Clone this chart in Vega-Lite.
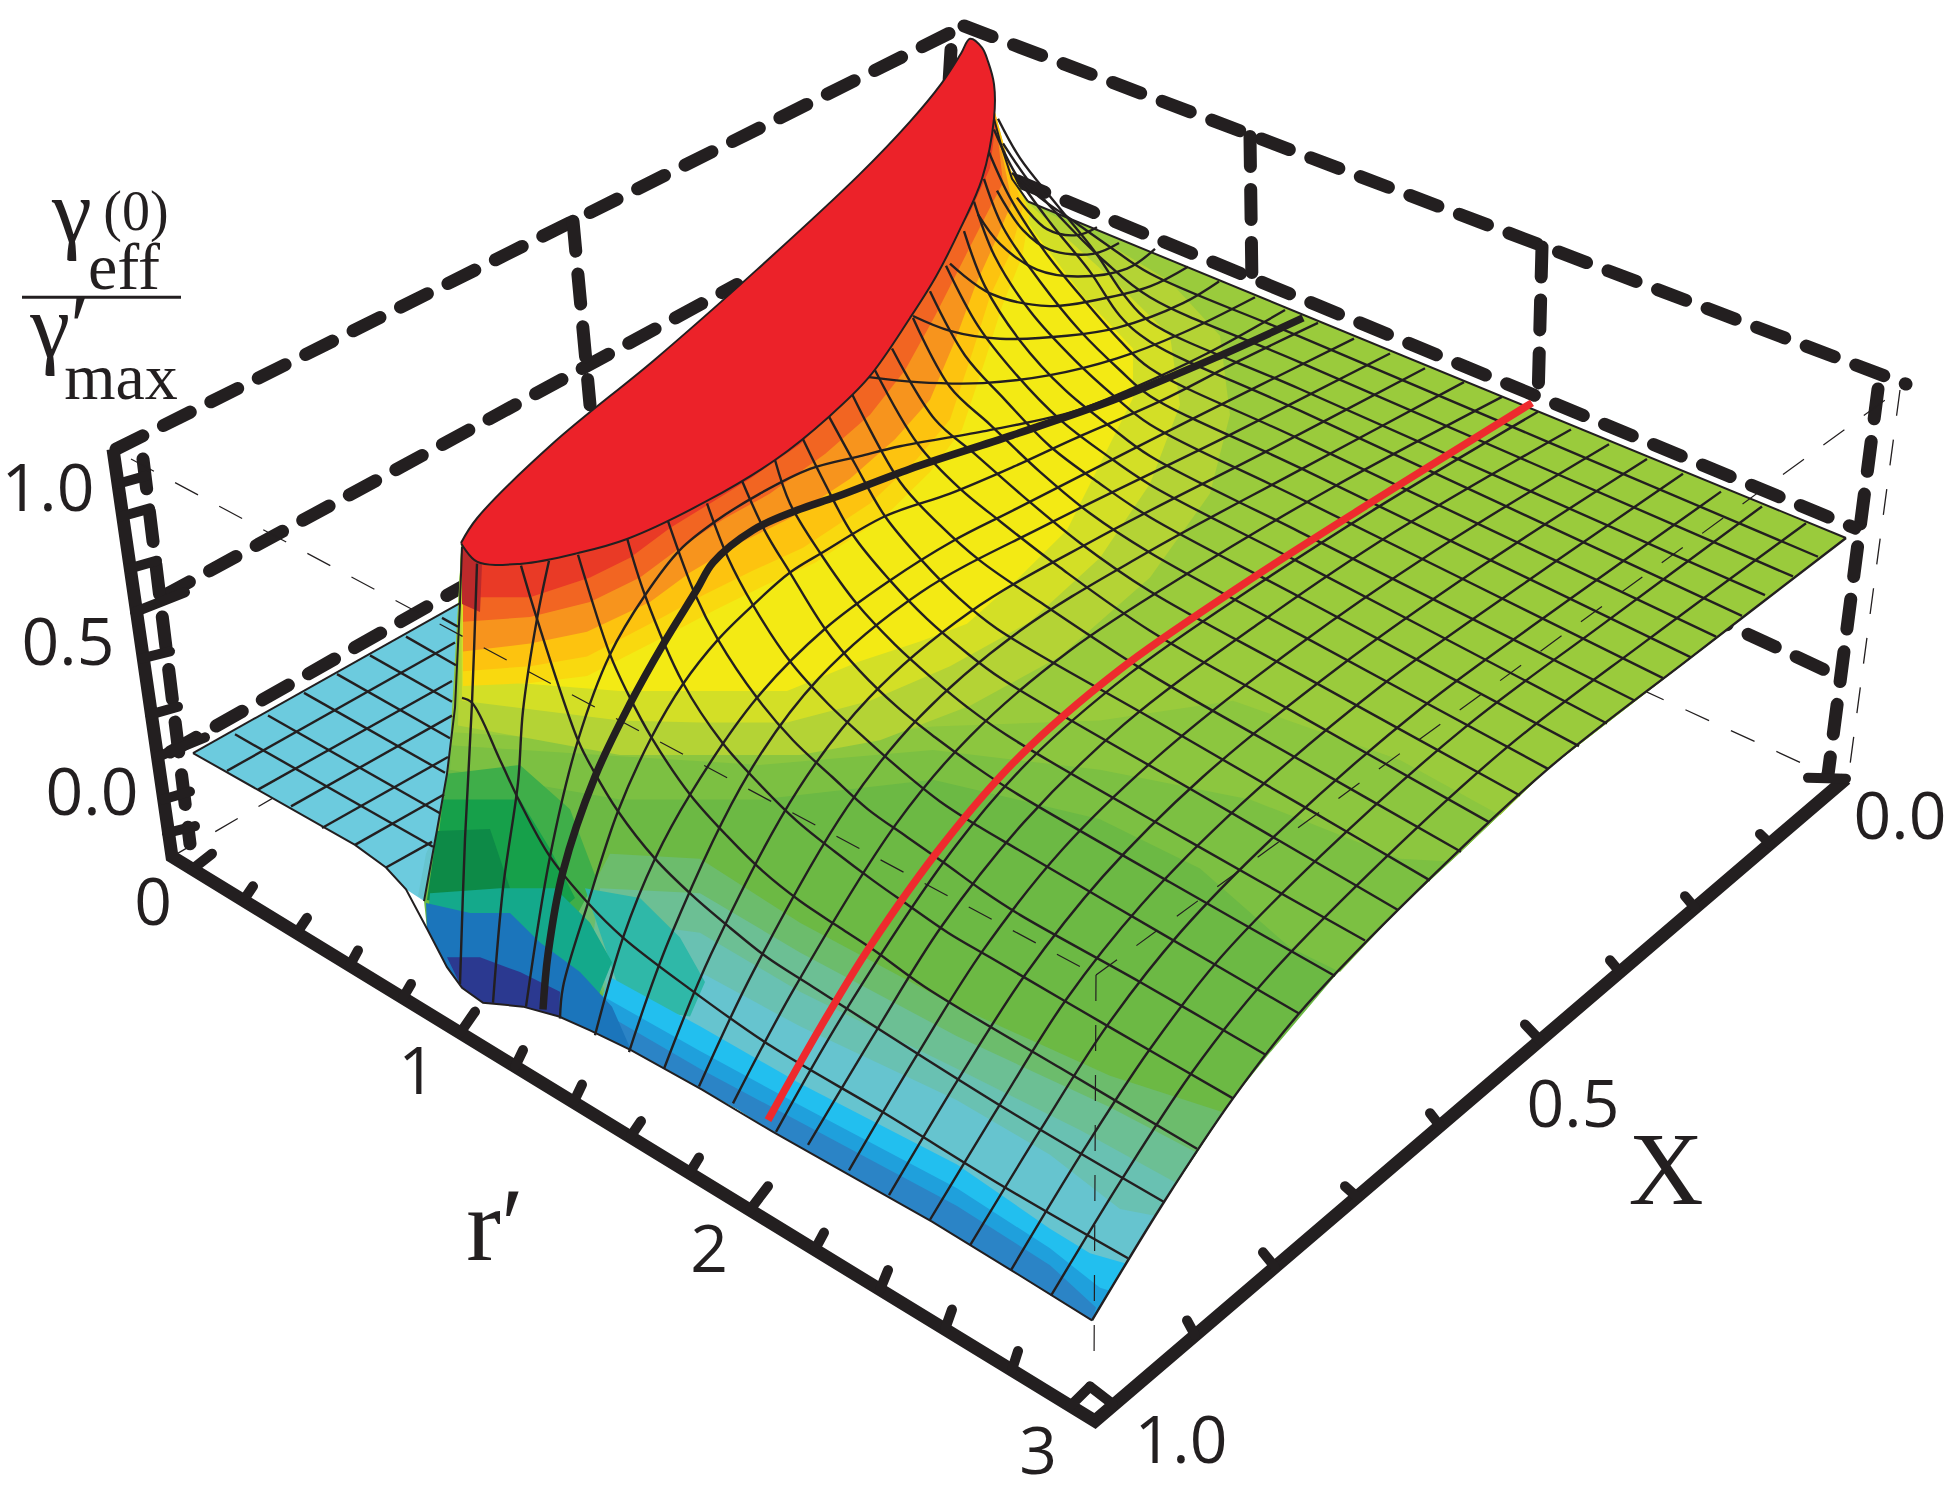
{"$schema":"https://vega.github.io/schema/vega-lite/v6.json","width":1950,"height":1497,"padding":0,"autosize":{"type":"fit","contains":"padding"},"background":"white","config":{"view":{"stroke":null}},
"datasets":{
"thinBack":[{"g":"a","x":172,"y":848},{"g":"a","x":500,"y":655},{"g":"b","x":1640,"y":678},{"g":"b","x":1838,"y":770},{"g":"c","x":1900,"y":375},{"g":"c","x":1848,"y":770}],
"dashes":[{"g":"d1","x":116,"y":435},{"g":"d1","x":964,"y":6},{"g":"d2","x":964,"y":6},{"g":"d2","x":1906,"y":369},{"g":"d3","x":1878,"y":374},{"g":"d3","x":1828,"y":765},{"g":"d4","x":163,"y":584},{"g":"d4","x":737,"y":268},{"g":"d5","x":1017,"y":163},{"g":"d5","x":1855,"y":515},{"g":"d6","x":170,"y":742},{"g":"d6","x":470,"y":570},{"g":"d7","x":1700,"y":600},{"g":"d7","x":1838,"y":665},{"g":"v1","x":573,"y":204},{"g":"v1","x":590,"y":390},{"g":"v2","x":1250,"y":118},{"g":"v2","x":1252,"y":270},{"g":"v3","x":1542,"y":230},{"g":"v3","x":1538,"y":385},{"g":"v4","x":951,"y":30},{"g":"v4","x":948,"y":80},{"g":"z","x":143,"y":445},{"g":"z","x":190,"y":835}],
"solid":[{"g":"s","x":113,"y":435},{"g":"s","x":172,"y":848},{"g":"s","x":1095,"y":1420},{"g":"s","x":1846,"y":769}],
"ticks":[
{"g":"r1","x":192,"y":861},{"g":"r1","x":212,"y":845},{"g":"r2","x":245,"y":890},{"g":"r2","x":253,"y":878},{"g":"r3","x":297,"y":925},{"g":"r3","x":307,"y":910},{"g":"r4","x":350,"y":958},{"g":"r4","x":358,"y":943},{"g":"r5","x":403,"y":991},{"g":"r5","x":411,"y":977},{"g":"r6","x":460,"y":1027},{"g":"r6","x":475,"y":1005},{"g":"r7","x":515,"y":1061},{"g":"r7","x":523,"y":1044},{"g":"r8","x":574,"y":1096},{"g":"r8","x":582,"y":1079},{"g":"r9","x":631,"y":1131},{"g":"r9","x":641,"y":1116},{"g":"r10","x":690,"y":1168},{"g":"r10","x":699,"y":1153},{"g":"r11","x":750,"y":1206},{"g":"r11","x":768,"y":1182},{"g":"r12","x":815,"y":1246},{"g":"r12","x":824,"y":1229},{"g":"r13","x":880,"y":1287},{"g":"r13","x":888,"y":1267},{"g":"r14","x":945,"y":1327},{"g":"r14","x":952,"y":1307},{"g":"r15","x":1012,"y":1368},{"g":"r15","x":1018,"y":1349},{"g":"r16","x":1070,"y":1405},{"g":"r16","x":1090,"y":1385},
{"g":"x1","x":1195,"y":1333},{"g":"x1","x":1187,"y":1318},{"g":"x2","x":1275,"y":1264},{"g":"x2","x":1263,"y":1249},{"g":"x3","x":1357,"y":1193},{"g":"x3","x":1345,"y":1182},{"g":"x4","x":1440,"y":1121},{"g":"x4","x":1430,"y":1108},{"g":"x5","x":1540,"y":1034},{"g":"x5","x":1525,"y":1018},{"g":"x6","x":1620,"y":965},{"g":"x6","x":1610,"y":953},{"g":"x7","x":1695,"y":900},{"g":"x7","x":1685,"y":888},{"g":"x8","x":1770,"y":835},{"g":"x8","x":1760,"y":825},{"g":"x9","x":1846,"y":769},{"g":"x9","x":1808,"y":768},{"g":"x10","x":1113,"y":1403},{"g":"x10","x":1090,"y":1385},
{"g":"z1","x":118,"y":470},{"g":"z1","x":146,"y":462},{"g":"z2","x":122,"y":503},{"g":"z2","x":150,"y":495},{"g":"z3","x":129,"y":556},{"g":"z3","x":157,"y":548},{"g":"z4","x":135,"y":600},{"g":"z4","x":185,"y":580},{"g":"z5","x":142,"y":647},{"g":"z5","x":170,"y":640},{"g":"z6","x":150,"y":704},{"g":"z6","x":178,"y":696},{"g":"z7","x":157,"y":747},{"g":"z7","x":205,"y":727},{"g":"z8","x":163,"y":790},{"g":"z8","x":190,"y":782},{"g":"z9","x":167,"y":824},{"g":"z9","x":195,"y":817}],
"poly":[
{"p":"floor","c":"floor","x":193,"y":743},{"p":"floor","c":"floor","x":460,"y":591},{"p":"floor","c":"floor","x":455,"y":697},{"p":"floor","c":"floor","x":447,"y":764},{"p":"floor","c":"floor","x":437,"y":821},{"p":"floor","c":"floor","x":424,"y":893},{"p":"floor","c":"floor","x":406,"y":881},{"p":"floor","c":"floor","x":386,"y":859},{"p":"floor","c":"floor","x":355,"y":836},{"p":"floor","c":"floor","x":193,"y":743},
{"p":"foot","c":"f2","x":426,"y":845},{"p":"foot","c":"f2","x":437,"y":821},{"p":"foot","c":"f2","x":430,"y":893},{"p":"foot","c":"f2","x":418,"y":888},{"p":"foot","c":"f2","x":426,"y":845},
{"p":"S","c":"g0","x":461,"y":530},{"p":"S","c":"g0","x":630,"y":480},{"p":"S","c":"g0","x":760,"y":400},{"p":"S","c":"g0","x":869,"y":310},{"p":"S","c":"g0","x":940,"y":210},{"p":"S","c":"g0","x":990,"y":60},{"p":"S","c":"g0","x":994,"y":100},{"p":"S","c":"g0","x":1002,"y":130},{"p":"S","c":"g0","x":1012,"y":161},{"p":"S","c":"g0","x":1028,"y":184},{"p":"S","c":"g0","x":1846,"y":525},{"p":"S","c":"g0","x":1719,"y":625},{"p":"S","c":"g0","x":1635,"y":690},{"p":"S","c":"g0","x":1548,"y":759},{"p":"S","c":"g0","x":1461,"y":843},{"p":"S","c":"g0","x":1400,"y":900},{"p":"S","c":"g0","x":1335,"y":969},{"p":"S","c":"g0","x":1268,"y":1049},{"p":"S","c":"g0","x":1233,"y":1093},{"p":"S","c":"g0","x":1164,"y":1198},{"p":"S","c":"g0","x":1128,"y":1255},{"p":"S","c":"g0","x":1092,"y":1318},{"p":"S","c":"g0","x":1011,"y":1267},{"p":"S","c":"g0","x":932,"y":1218},{"p":"S","c":"g0","x":850,"y":1171},{"p":"S","c":"g0","x":773,"y":1127},{"p":"S","c":"g0","x":738,"y":1104},{"p":"S","c":"g0","x":702,"y":1084},{"p":"S","c":"g0","x":666,"y":1063},{"p":"S","c":"g0","x":631,"y":1044},{"p":"S","c":"g0","x":590,"y":1024},{"p":"S","c":"g0","x":559,"y":1010},{"p":"S","c":"g0","x":523,"y":1000},{"p":"S","c":"g0","x":483,"y":996},{"p":"S","c":"g0","x":462,"y":981},{"p":"S","c":"g0","x":447,"y":960},{"p":"S","c":"g0","x":427,"y":921},{"p":"S","c":"g0","x":424,"y":893},{"p":"S","c":"g0","x":437,"y":821},{"p":"S","c":"g0","x":447,"y":764},{"p":"S","c":"g0","x":455,"y":697},{"p":"S","c":"g0","x":460,"y":591},{"p":"S","c":"g0","x":461,"y":530},
{"p":"G1","c":"g1","x":450,"y":760},{"p":"G1","c":"g1","x":620,"y":790},{"p":"G1","c":"g1","x":760,"y":790},{"p":"G1","c":"g1","x":933,"y":770},{"p":"G1","c":"g1","x":1100,"y":810},{"p":"G1","c":"g1","x":1200,"y":860},{"p":"G1","c":"g1","x":1290,"y":940},{"p":"G1","c":"g1","x":1340,"y":965},{"p":"G1","c":"g1","x":1400,"y":900},{"p":"G1","c":"g1","x":1461,"y":843},{"p":"G1","c":"g1","x":1548,"y":759},{"p":"G1","c":"g1","x":1846,"y":525},{"p":"G1","c":"g1","x":1028,"y":184},{"p":"G1","c":"g1","x":1000,"y":140},{"p":"G1","c":"g1","x":800,"y":400},{"p":"G1","c":"g1","x":461,"y":540},{"p":"G1","c":"g1","x":450,"y":760},
{"p":"G2","c":"g2","x":450,"y":735},{"p":"G2","c":"g2","x":600,"y":745},{"p":"G2","c":"g2","x":760,"y":755},{"p":"G2","c":"g2","x":933,"y":740},{"p":"G2","c":"g2","x":1100,"y":760},{"p":"G2","c":"g2","x":1250,"y":790},{"p":"G2","c":"g2","x":1400,"y":850},{"p":"G2","c":"g2","x":1450,"y":853},{"p":"G2","c":"g2","x":1548,"y":759},{"p":"G2","c":"g2","x":1846,"y":525},{"p":"G2","c":"g2","x":1028,"y":184},{"p":"G2","c":"g2","x":1000,"y":140},{"p":"G2","c":"g2","x":800,"y":400},{"p":"G2","c":"g2","x":461,"y":540},{"p":"G2","c":"g2","x":450,"y":735},
{"p":"G3","c":"g3","x":452,"y":722},{"p":"G3","c":"g3","x":620,"y":732},{"p":"G3","c":"g3","x":800,"y":732},{"p":"G3","c":"g3","x":933,"y":716},{"p":"G3","c":"g3","x":1100,"y":710},{"p":"G3","c":"g3","x":1233,"y":690},{"p":"G3","c":"g3","x":1400,"y":750},{"p":"G3","c":"g3","x":1500,"y":806},{"p":"G3","c":"g3","x":1548,"y":759},{"p":"G3","c":"g3","x":1846,"y":525},{"p":"G3","c":"g3","x":1028,"y":184},{"p":"G3","c":"g3","x":1000,"y":140},{"p":"G3","c":"g3","x":800,"y":400},{"p":"G3","c":"g3","x":461,"y":540},{"p":"G3","c":"g3","x":452,"y":722},
{"p":"YB","c":"yb","x":458,"y":715},{"p":"YB","c":"yb","x":620,"y":745},{"p":"YB","c":"yb","x":700,"y":745},{"p":"YB","c":"yb","x":800,"y":745},{"p":"YB","c":"yb","x":880,"y":730},{"p":"YB","c":"yb","x":970,"y":695},{"p":"YB","c":"yb","x":1060,"y":645},{"p":"YB","c":"yb","x":1150,"y":565},{"p":"YB","c":"yb","x":1210,"y":480},{"p":"YB","c":"yb","x":1230,"y":400},{"p":"YB","c":"yb","x":1220,"y":320},{"p":"YB","c":"yb","x":1170,"y":265},{"p":"YB","c":"yb","x":1100,"y":222},{"p":"YB","c":"yb","x":1030,"y":186},{"p":"YB","c":"yb","x":1000,"y":140},{"p":"YB","c":"yb","x":800,"y":400},{"p":"YB","c":"yb","x":461,"y":540},{"p":"YB","c":"yb","x":458,"y":715},
{"p":"YC","c":"yc","x":462,"y":690},{"p":"YC","c":"yc","x":620,"y":710},{"p":"YC","c":"yc","x":700,"y":712},{"p":"YC","c":"yc","x":787,"y":712},{"p":"YC","c":"yc","x":870,"y":690},{"p":"YC","c":"yc","x":950,"y":655},{"p":"YC","c":"yc","x":1030,"y":610},{"p":"YC","c":"yc","x":1100,"y":545},{"p":"YC","c":"yc","x":1150,"y":470},{"p":"YC","c":"yc","x":1180,"y":390},{"p":"YC","c":"yc","x":1170,"y":320},{"p":"YC","c":"yc","x":1120,"y":270},{"p":"YC","c":"yc","x":1060,"y":215},{"p":"YC","c":"yc","x":1022,"y":180},{"p":"YC","c":"yc","x":1000,"y":140},{"p":"YC","c":"yc","x":800,"y":400},{"p":"YC","c":"yc","x":461,"y":540},{"p":"YC","c":"yc","x":462,"y":690},
{"p":"Y","c":"y","x":465,"y":668},{"p":"Y","c":"y","x":620,"y":680},{"p":"Y","c":"y","x":700,"y":680},{"p":"Y","c":"y","x":787,"y":680},{"p":"Y","c":"y","x":860,"y":650},{"p":"Y","c":"y","x":920,"y":630},{"p":"Y","c":"y","x":967,"y":612},{"p":"Y","c":"y","x":1017,"y":567},{"p":"Y","c":"y","x":1067,"y":517},{"p":"Y","c":"y","x":1100,"y":450},{"p":"Y","c":"y","x":1133,"y":383},{"p":"Y","c":"y","x":1133,"y":333},{"p":"Y","c":"y","x":1083,"y":280},{"p":"Y","c":"y","x":1033,"y":213},{"p":"Y","c":"y","x":1017,"y":187},{"p":"Y","c":"y","x":1000,"y":140},{"p":"Y","c":"y","x":800,"y":400},{"p":"Y","c":"y","x":461,"y":540},{"p":"Y","c":"y","x":465,"y":668},
{"p":"GL1","c":"gl1","x":447,"y":764},{"p":"GL1","c":"gl1","x":520,"y":755},{"p":"GL1","c":"gl1","x":570,"y":800},{"p":"GL1","c":"gl1","x":600,"y":880},{"p":"GL1","c":"gl1","x":620,"y":900},{"p":"GL1","c":"gl1","x":560,"y":930},{"p":"GL1","c":"gl1","x":430,"y":900},{"p":"GL1","c":"gl1","x":447,"y":764},
{"p":"GL2","c":"gl2","x":443,"y":790},{"p":"GL2","c":"gl2","x":520,"y":790},{"p":"GL2","c":"gl2","x":550,"y":840},{"p":"GL2","c":"gl2","x":575,"y":890},{"p":"GL2","c":"gl2","x":540,"y":920},{"p":"GL2","c":"gl2","x":430,"y":900},{"p":"GL2","c":"gl2","x":443,"y":790},
{"p":"GL3","c":"gl3","x":437,"y":822},{"p":"GL3","c":"gl3","x":490,"y":820},{"p":"GL3","c":"gl3","x":510,"y":880},{"p":"GL3","c":"gl3","x":480,"y":900},{"p":"GL3","c":"gl3","x":427,"y":892},{"p":"GL3","c":"gl3","x":437,"y":822},
{"p":"F0","c":"f0","x":610,"y":845},{"p":"F0","c":"f0","x":700,"y":850},{"p":"F0","c":"f0","x":800,"y":915},{"p":"F0","c":"f0","x":957,"y":1000},{"p":"F0","c":"f0","x":1110,"y":1070},{"p":"F0","c":"f0","x":1223,"y":1107},{"p":"F0","c":"f0","x":1197,"y":1148},{"p":"F0","c":"f0","x":1164,"y":1198},{"p":"F0","c":"f0","x":1128,"y":1255},{"p":"F0","c":"f0","x":1092,"y":1318},{"p":"F0","c":"f0","x":1011,"y":1267},{"p":"F0","c":"f0","x":932,"y":1218},{"p":"F0","c":"f0","x":850,"y":1171},{"p":"F0","c":"f0","x":773,"y":1127},{"p":"F0","c":"f0","x":738,"y":1104},{"p":"F0","c":"f0","x":702,"y":1084},{"p":"F0","c":"f0","x":666,"y":1063},{"p":"F0","c":"f0","x":631,"y":1044},{"p":"F0","c":"f0","x":570,"y":920},{"p":"F0","c":"f0","x":610,"y":845},
{"p":"F1","c":"f1","x":600,"y":880},{"p":"F1","c":"f1","x":700,"y":885},{"p":"F1","c":"f1","x":800,"y":945},{"p":"F1","c":"f1","x":957,"y":1030},{"p":"F1","c":"f1","x":1110,"y":1102},{"p":"F1","c":"f1","x":1197,"y":1148},{"p":"F1","c":"f1","x":1164,"y":1198},{"p":"F1","c":"f1","x":1128,"y":1255},{"p":"F1","c":"f1","x":1092,"y":1318},{"p":"F1","c":"f1","x":1011,"y":1267},{"p":"F1","c":"f1","x":932,"y":1218},{"p":"F1","c":"f1","x":850,"y":1171},{"p":"F1","c":"f1","x":773,"y":1127},{"p":"F1","c":"f1","x":738,"y":1104},{"p":"F1","c":"f1","x":702,"y":1084},{"p":"F1","c":"f1","x":666,"y":1063},{"p":"F1","c":"f1","x":631,"y":1044},{"p":"F1","c":"f1","x":590,"y":950},{"p":"F1","c":"f1","x":600,"y":880},
{"p":"F15","c":"f15","x":625,"y":915},{"p":"F15","c":"f15","x":700,"y":925},{"p":"F15","c":"f15","x":800,"y":985},{"p":"F15","c":"f15","x":957,"y":1063},{"p":"F15","c":"f15","x":1080,"y":1125},{"p":"F15","c":"f15","x":1175,"y":1178},{"p":"F15","c":"f15","x":1164,"y":1198},{"p":"F15","c":"f15","x":1128,"y":1255},{"p":"F15","c":"f15","x":1092,"y":1318},{"p":"F15","c":"f15","x":1011,"y":1267},{"p":"F15","c":"f15","x":932,"y":1218},{"p":"F15","c":"f15","x":850,"y":1171},{"p":"F15","c":"f15","x":773,"y":1127},{"p":"F15","c":"f15","x":738,"y":1104},{"p":"F15","c":"f15","x":702,"y":1084},{"p":"F15","c":"f15","x":666,"y":1063},{"p":"F15","c":"f15","x":631,"y":1044},{"p":"F15","c":"f15","x":600,"y":960},{"p":"F15","c":"f15","x":625,"y":915},
{"p":"F2","c":"f2","x":640,"y":945},{"p":"F2","c":"f2","x":700,"y":965},{"p":"F2","c":"f2","x":800,"y":1020},{"p":"F2","c":"f2","x":957,"y":1095},{"p":"F2","c":"f2","x":1050,"y":1150},{"p":"F2","c":"f2","x":1120,"y":1205},{"p":"F2","c":"f2","x":1155,"y":1212},{"p":"F2","c":"f2","x":1128,"y":1255},{"p":"F2","c":"f2","x":1092,"y":1318},{"p":"F2","c":"f2","x":1011,"y":1267},{"p":"F2","c":"f2","x":932,"y":1218},{"p":"F2","c":"f2","x":850,"y":1171},{"p":"F2","c":"f2","x":773,"y":1127},{"p":"F2","c":"f2","x":738,"y":1104},{"p":"F2","c":"f2","x":702,"y":1084},{"p":"F2","c":"f2","x":666,"y":1063},{"p":"F2","c":"f2","x":631,"y":1044},{"p":"F2","c":"f2","x":610,"y":980},{"p":"F2","c":"f2","x":640,"y":945},
{"p":"T2","c":"t2","x":585,"y":880},{"p":"T2","c":"t2","x":640,"y":890},{"p":"T2","c":"t2","x":680,"y":930},{"p":"T2","c":"t2","x":705,"y":975},{"p":"T2","c":"t2","x":690,"y":1010},{"p":"T2","c":"t2","x":625,"y":1000},{"p":"T2","c":"t2","x":585,"y":880},
{"p":"F3","c":"f3","x":610,"y":970},{"p":"F3","c":"f3","x":700,"y":1020},{"p":"F3","c":"f3","x":800,"y":1078},{"p":"F3","c":"f3","x":957,"y":1160},{"p":"F3","c":"f3","x":1050,"y":1225},{"p":"F3","c":"f3","x":1090,"y":1250},{"p":"F3","c":"f3","x":1125,"y":1260},{"p":"F3","c":"f3","x":1092,"y":1318},{"p":"F3","c":"f3","x":1011,"y":1267},{"p":"F3","c":"f3","x":932,"y":1218},{"p":"F3","c":"f3","x":850,"y":1171},{"p":"F3","c":"f3","x":773,"y":1127},{"p":"F3","c":"f3","x":738,"y":1104},{"p":"F3","c":"f3","x":702,"y":1084},{"p":"F3","c":"f3","x":666,"y":1063},{"p":"F3","c":"f3","x":631,"y":1044},{"p":"F3","c":"f3","x":590,"y":1024},{"p":"F3","c":"f3","x":610,"y":970},
{"p":"F35","c":"f35","x":595,"y":985},{"p":"F35","c":"f35","x":700,"y":1045},{"p":"F35","c":"f35","x":800,"y":1100},{"p":"F35","c":"f35","x":957,"y":1184},{"p":"F35","c":"f35","x":1050,"y":1245},{"p":"F35","c":"f35","x":1100,"y":1285},{"p":"F35","c":"f35","x":1110,"y":1288},{"p":"F35","c":"f35","x":1092,"y":1318},{"p":"F35","c":"f35","x":1011,"y":1267},{"p":"F35","c":"f35","x":932,"y":1218},{"p":"F35","c":"f35","x":850,"y":1171},{"p":"F35","c":"f35","x":773,"y":1127},{"p":"F35","c":"f35","x":738,"y":1104},{"p":"F35","c":"f35","x":702,"y":1084},{"p":"F35","c":"f35","x":666,"y":1063},{"p":"F35","c":"f35","x":631,"y":1044},{"p":"F35","c":"f35","x":590,"y":1024},{"p":"F35","c":"f35","x":595,"y":985},
{"p":"F4","c":"f4","x":610,"y":1010},{"p":"F4","c":"f4","x":700,"y":1063},{"p":"F4","c":"f4","x":800,"y":1117},{"p":"F4","c":"f4","x":957,"y":1202},{"p":"F4","c":"f4","x":1050,"y":1262},{"p":"F4","c":"f4","x":1096,"y":1305},{"p":"F4","c":"f4","x":1092,"y":1318},{"p":"F4","c":"f4","x":1011,"y":1267},{"p":"F4","c":"f4","x":932,"y":1218},{"p":"F4","c":"f4","x":850,"y":1171},{"p":"F4","c":"f4","x":773,"y":1127},{"p":"F4","c":"f4","x":738,"y":1104},{"p":"F4","c":"f4","x":702,"y":1084},{"p":"F4","c":"f4","x":666,"y":1063},{"p":"F4","c":"f4","x":631,"y":1044},{"p":"F4","c":"f4","x":610,"y":1010},
{"p":"TL","c":"tl","x":430,"y":885},{"p":"TL","c":"tl","x":500,"y":880},{"p":"TL","c":"tl","x":555,"y":880},{"p":"TL","c":"tl","x":590,"y":915},{"p":"TL","c":"tl","x":612,"y":955},{"p":"TL","c":"tl","x":600,"y":985},{"p":"TL","c":"tl","x":590,"y":1024},{"p":"TL","c":"tl","x":559,"y":1010},{"p":"TL","c":"tl","x":523,"y":1000},{"p":"TL","c":"tl","x":483,"y":996},{"p":"TL","c":"tl","x":462,"y":981},{"p":"TL","c":"tl","x":447,"y":960},{"p":"TL","c":"tl","x":427,"y":921},{"p":"TL","c":"tl","x":430,"y":885},
{"p":"TB","c":"tb","x":426,"y":895},{"p":"TB","c":"tb","x":470,"y":905},{"p":"TB","c":"tb","x":510,"y":905},{"p":"TB","c":"tb","x":540,"y":935},{"p":"TB","c":"tb","x":580,"y":965},{"p":"TB","c":"tb","x":612,"y":1000},{"p":"TB","c":"tb","x":631,"y":1044},{"p":"TB","c":"tb","x":590,"y":1024},{"p":"TB","c":"tb","x":559,"y":1010},{"p":"TB","c":"tb","x":523,"y":1000},{"p":"TB","c":"tb","x":483,"y":996},{"p":"TB","c":"tb","x":462,"y":981},{"p":"TB","c":"tb","x":447,"y":960},{"p":"TB","c":"tb","x":427,"y":921},{"p":"TB","c":"tb","x":426,"y":895},
{"p":"NV","c":"nv","x":447,"y":950},{"p":"NV","c":"nv","x":480,"y":950},{"p":"NV","c":"nv","x":520,"y":965},{"p":"NV","c":"nv","x":560,"y":985},{"p":"NV","c":"nv","x":559,"y":1010},{"p":"NV","c":"nv","x":523,"y":1000},{"p":"NV","c":"nv","x":483,"y":996},{"p":"NV","c":"nv","x":462,"y":981},{"p":"NV","c":"nv","x":447,"y":950},
{"p":"O0","c":"o0","x":463,"y":675},{"p":"O0","c":"o0","x":530,"y":672},{"p":"O0","c":"o0","x":587,"y":665},{"p":"O0","c":"o0","x":670,"y":622},{"p":"O0","c":"o0","x":715,"y":598},{"p":"O0","c":"o0","x":765,"y":573},{"p":"O0","c":"o0","x":815,"y":550},{"p":"O0","c":"o0","x":885,"y":503},{"p":"O0","c":"o0","x":930,"y":458},{"p":"O0","c":"o0","x":962,"y":415},{"p":"O0","c":"o0","x":985,"y":345},{"p":"O0","c":"o0","x":1002,"y":290},{"p":"O0","c":"o0","x":1022,"y":240},{"p":"O0","c":"o0","x":1030,"y":195},{"p":"O0","c":"o0","x":1010,"y":150},{"p":"O0","c":"o0","x":994,"y":90},{"p":"O0","c":"o0","x":800,"y":350},{"p":"O0","c":"o0","x":600,"y":480},{"p":"O0","c":"o0","x":463,"y":530},{"p":"O0","c":"o0","x":463,"y":675},
{"p":"O1","c":"o1","x":463,"y":660},{"p":"O1","c":"o1","x":530,"y":655},{"p":"O1","c":"o1","x":587,"y":645},{"p":"O1","c":"o1","x":663,"y":605},{"p":"O1","c":"o1","x":703,"y":583},{"p":"O1","c":"o1","x":753,"y":558},{"p":"O1","c":"o1","x":803,"y":535},{"p":"O1","c":"o1","x":870,"y":490},{"p":"O1","c":"o1","x":917,"y":445},{"p":"O1","c":"o1","x":950,"y":405},{"p":"O1","c":"o1","x":973,"y":335},{"p":"O1","c":"o1","x":990,"y":280},{"p":"O1","c":"o1","x":1010,"y":237},{"p":"O1","c":"o1","x":1023,"y":190},{"p":"O1","c":"o1","x":1010,"y":150},{"p":"O1","c":"o1","x":994,"y":90},{"p":"O1","c":"o1","x":800,"y":350},{"p":"O1","c":"o1","x":600,"y":480},{"p":"O1","c":"o1","x":463,"y":530},{"p":"O1","c":"o1","x":463,"y":660},
{"p":"O2","c":"o2","x":463,"y":640},{"p":"O2","c":"o2","x":530,"y":632},{"p":"O2","c":"o2","x":587,"y":620},{"p":"O2","c":"o2","x":650,"y":590},{"p":"O2","c":"o2","x":690,"y":560},{"p":"O2","c":"o2","x":740,"y":530},{"p":"O2","c":"o2","x":790,"y":505},{"p":"O2","c":"o2","x":850,"y":465},{"p":"O2","c":"o2","x":895,"y":425},{"p":"O2","c":"o2","x":930,"y":385},{"p":"O2","c":"o2","x":955,"y":325},{"p":"O2","c":"o2","x":975,"y":270},{"p":"O2","c":"o2","x":995,"y":225},{"p":"O2","c":"o2","x":1012,"y":185},{"p":"O2","c":"o2","x":1003,"y":140},{"p":"O2","c":"o2","x":994,"y":90},{"p":"O2","c":"o2","x":800,"y":350},{"p":"O2","c":"o2","x":600,"y":480},{"p":"O2","c":"o2","x":463,"y":530},{"p":"O2","c":"o2","x":463,"y":640},
{"p":"O3","c":"o3","x":463,"y":610},{"p":"O3","c":"o3","x":530,"y":605},{"p":"O3","c":"o3","x":590,"y":590},{"p":"O3","c":"o3","x":640,"y":565},{"p":"O3","c":"o3","x":680,"y":535},{"p":"O3","c":"o3","x":725,"y":505},{"p":"O3","c":"o3","x":770,"y":480},{"p":"O3","c":"o3","x":825,"y":440},{"p":"O3","c":"o3","x":870,"y":400},{"p":"O3","c":"o3","x":905,"y":355},{"p":"O3","c":"o3","x":935,"y":300},{"p":"O3","c":"o3","x":960,"y":250},{"p":"O3","c":"o3","x":985,"y":200},{"p":"O3","c":"o3","x":1003,"y":165},{"p":"O3","c":"o3","x":998,"y":120},{"p":"O3","c":"o3","x":994,"y":90},{"p":"O3","c":"o3","x":800,"y":350},{"p":"O3","c":"o3","x":600,"y":480},{"p":"O3","c":"o3","x":463,"y":530},{"p":"O3","c":"o3","x":463,"y":610},
{"p":"O4","c":"o4","x":463,"y":585},{"p":"O4","c":"o4","x":530,"y":585},{"p":"O4","c":"o4","x":590,"y":565},{"p":"O4","c":"o4","x":630,"y":545},{"p":"O4","c":"o4","x":670,"y":515},{"p":"O4","c":"o4","x":710,"y":490},{"p":"O4","c":"o4","x":750,"y":465},{"p":"O4","c":"o4","x":800,"y":430},{"p":"O4","c":"o4","x":845,"y":385},{"p":"O4","c":"o4","x":885,"y":335},{"p":"O4","c":"o4","x":915,"y":290},{"p":"O4","c":"o4","x":945,"y":240},{"p":"O4","c":"o4","x":970,"y":195},{"p":"O4","c":"o4","x":990,"y":150},{"p":"O4","c":"o4","x":995,"y":110},{"p":"O4","c":"o4","x":994,"y":90},{"p":"O4","c":"o4","x":800,"y":350},{"p":"O4","c":"o4","x":600,"y":480},{"p":"O4","c":"o4","x":463,"y":530},{"p":"O4","c":"o4","x":463,"y":585},
{"p":"W1","c":"w1","x":462,"y":530},{"p":"W1","c":"w1","x":482,"y":552},{"p":"W1","c":"w1","x":480,"y":600},{"p":"W1","c":"w1","x":462,"y":592},{"p":"W1","c":"w1","x":462,"y":530}
],
"grid":[
{"g":"E0","x":1092,"y":1318},{"g":"E0","x":1164,"y":1198},{"g":"E0","x":1233,"y":1093},{"g":"E0","x":1299,"y":1007},{"g":"E0","x":1400,"y":900},{"g":"E0","x":1548,"y":759},{"g":"E0","x":1691,"y":646},{"g":"E0","x":1846,"y":525},
{"g":"A1","x":1051,"y":1293},{"g":"A1","x":1123,"y":1173},{"g":"A1","x":1191,"y":1068},{"g":"A1","x":1260,"y":979},{"g":"A1","x":1361,"y":873},{"g":"A1","x":1506,"y":738},{"g":"A1","x":1648,"y":628},{"g":"A1","x":1806,"y":510},
{"g":"A2","x":1011,"y":1267},{"g":"A2","x":1082,"y":1148},{"g":"A2","x":1150,"y":1043},{"g":"A2","x":1220,"y":951},{"g":"A2","x":1321,"y":847},{"g":"A2","x":1465,"y":717},{"g":"A2","x":1606,"y":610},{"g":"A2","x":1762,"y":493},
{"g":"A3","x":970,"y":1242},{"g":"A3","x":1041,"y":1124},{"g":"A3","x":1108,"y":1018},{"g":"A3","x":1181,"y":924},{"g":"A3","x":1282,"y":820},{"g":"A3","x":1423,"y":696},{"g":"A3","x":1563,"y":592},{"g":"A3","x":1721,"y":478},
{"g":"A4","x":930,"y":1216},{"g":"A4","x":1000,"y":1099},{"g":"A4","x":1066,"y":993},{"g":"A4","x":1142,"y":896},{"g":"A4","x":1242,"y":794},{"g":"A4","x":1381,"y":675},{"g":"A4","x":1520,"y":574},{"g":"A4","x":1683,"y":460},
{"g":"A5","x":889,"y":1191},{"g":"A5","x":958,"y":1074},{"g":"A5","x":1025,"y":968},{"g":"A5","x":1103,"y":868},{"g":"A5","x":1203,"y":767},{"g":"A5","x":1340,"y":655},{"g":"A5","x":1478,"y":556},{"g":"A5","x":1647,"y":445},
{"g":"A6","x":849,"y":1166},{"g":"A6","x":917,"y":1049},{"g":"A6","x":983,"y":943},{"g":"A6","x":1063,"y":840},{"g":"A6","x":1164,"y":741},{"g":"A6","x":1298,"y":634},{"g":"A6","x":1435,"y":538},{"g":"A6","x":1609,"y":430},
{"g":"A7","x":808,"y":1140},{"g":"A7","x":876,"y":1025},{"g":"A7","x":942,"y":918},{"g":"A7","x":1024,"y":813},{"g":"A7","x":1124,"y":714},{"g":"A7","x":1257,"y":613},{"g":"A7","x":1393,"y":520},{"g":"A7","x":1571,"y":415},
{"g":"A8","x":776,"y":1127},{"g":"A8","x":845,"y":1005},{"g":"A8","x":955,"y":838},{"g":"A8","x":1030,"y":750},{"g":"A8","x":1129,"y":663},{"g":"A8","x":1252,"y":576},{"g":"A8","x":1376,"y":495},{"g":"A8","x":1538,"y":397},
{"g":"A9","x":733,"y":1098},{"g":"A9","x":794,"y":982},{"g":"A9","x":896,"y":815},{"g":"A9","x":970,"y":726},{"g":"A9","x":1070,"y":639},{"g":"A9","x":1194,"y":557},{"g":"A9","x":1334,"y":473},{"g":"A9","x":1502,"y":382},
{"g":"A10","x":699,"y":1081},{"g":"A10","x":753,"y":965},{"g":"A10","x":847,"y":798},{"g":"A10","x":919,"y":707},{"g":"A10","x":1020,"y":619},{"g":"A10","x":1145,"y":541},{"g":"A10","x":1300,"y":456},{"g":"A10","x":1464,"y":367},
{"g":"A11","x":664,"y":1063},{"g":"A11","x":711,"y":947},{"g":"A11","x":798,"y":780},{"g":"A11","x":869,"y":687},{"g":"A11","x":970,"y":600},{"g":"A11","x":1096,"y":526},{"g":"A11","x":1265,"y":438},{"g":"A11","x":1425,"y":353},
{"g":"A12","x":629,"y":1046},{"g":"A12","x":670,"y":930},{"g":"A12","x":749,"y":763},{"g":"A12","x":819,"y":667},{"g":"A12","x":921,"y":580},{"g":"A12","x":1048,"y":511},{"g":"A12","x":1231,"y":420},{"g":"A12","x":1390,"y":338},
{"g":"A13","x":595,"y":1029},{"g":"A13","x":623,"y":930},{"g":"A13","x":655,"y":850},{"g":"A13","x":690,"y":785},{"g":"A13","x":757,"y":687},{"g":"A13","x":825,"y":617},{"g":"A13","x":890,"y":568},{"g":"A13","x":953,"y":528},{"g":"A13","x":1017,"y":495},{"g":"A13","x":1197,"y":402},{"g":"A13","x":1354,"y":323},
{"g":"A14","x":560,"y":1012},{"g":"A14","x":563,"y":980},{"g":"A14","x":588,"y":895},{"g":"A14","x":618,"y":802},{"g":"A14","x":651,"y":728},{"g":"A14","x":683,"y":673},{"g":"A14","x":718,"y":628},{"g":"A14","x":753,"y":593},{"g":"A14","x":790,"y":560},{"g":"A14","x":822,"y":540},{"g":"A14","x":885,"y":503},{"g":"A14","x":950,"y":480},{"g":"A14","x":1013,"y":453},{"g":"A14","x":1073,"y":425},{"g":"A14","x":1163,"y":385},{"g":"A14","x":1240,"y":345},{"g":"A14","x":1318,"y":307},
{"g":"A15","x":526,"y":1000},{"g":"A15","x":550,"y":848},{"g":"A15","x":578,"y":730},{"g":"A15","x":610,"y":643},{"g":"A15","x":645,"y":583},{"g":"A15","x":680,"y":537},{"g":"A15","x":717,"y":507},{"g":"A15","x":760,"y":480},{"g":"A15","x":810,"y":455},{"g":"A15","x":860,"y":442},{"g":"A15","x":900,"y":432},{"g":"A15","x":983,"y":417},{"g":"A15","x":1073,"y":397},{"g":"A15","x":1133,"y":373},{"g":"A15","x":1207,"y":338},{"g":"A15","x":1285,"y":294},
{"g":"A16a","x":493,"y":996},{"g":"A16a","x":503,"y":880},{"g":"A16a","x":518,"y":773},{"g":"A16a","x":523,"y":700},{"g":"A16a","x":537,"y":607},{"g":"A16a","x":549,"y":548},
{"g":"A16b","x":869,"y":362},{"g":"A16b","x":917,"y":367},{"g":"A16b","x":983,"y":368},{"g":"A16b","x":1050,"y":360},{"g":"A16b","x":1117,"y":343},{"g":"A16b","x":1183,"y":317},{"g":"A16b","x":1255,"y":281},
{"g":"A17a","x":460,"y":977},{"g":"A17a","x":465,"y":830},{"g":"A17a","x":472,"y":692},{"g":"A17a","x":477,"y":551},
{"g":"A17b","x":913,"y":300},{"g":"A17b","x":950,"y":315},{"g":"A17b","x":1000,"y":323},{"g":"A17b","x":1067,"y":320},{"g":"A17b","x":1117,"y":312},{"g":"A17b","x":1183,"y":287},{"g":"A17b","x":1219,"y":265},
{"g":"A18","x":950,"y":247},{"g":"A18","x":990,"y":277},{"g":"A18","x":1050,"y":290},{"g":"A18","x":1100,"y":283},{"g":"A18","x":1150,"y":270},{"g":"A18","x":1188,"y":250},
{"g":"A19","x":978,"y":197},{"g":"A19","x":1000,"y":227},{"g":"A19","x":1037,"y":253},{"g":"A19","x":1077,"y":260},{"g":"A19","x":1127,"y":252},{"g":"A19","x":1155,"y":232},
{"g":"A20","x":997,"y":173},{"g":"A20","x":1023,"y":213},{"g":"A20","x":1050,"y":233},{"g":"A20","x":1093,"y":237},{"g":"A20","x":1119,"y":226},
{"g":"A21","x":1017,"y":180},{"g":"A21","x":1047,"y":212},{"g":"A21","x":1077,"y":218},{"g":"A21","x":1097,"y":210},
{"g":"B24","x":1128,"y":1255},{"g":"B24","x":1003,"y":1182},{"g":"B24","x":883,"y":1107},{"g":"B24","x":771,"y":1040},{"g":"B24","x":687,"y":980},{"g":"B24","x":623,"y":930},{"g":"B24","x":588,"y":895},{"g":"B24","x":550,"y":848},{"g":"B24","x":520,"y":793},{"g":"B24","x":500,"y":750},{"g":"B24","x":472,"y":692},{"g":"B24","x":462,"y":687},
{"g":"B23","x":1164,"y":1198},{"g":"B23","x":1003,"y":1102},{"g":"B23","x":813,"y":980},{"g":"B23","x":767,"y":950},{"g":"B23","x":730,"y":920},{"g":"B23","x":692,"y":887},{"g":"B23","x":655,"y":850},{"g":"B23","x":618,"y":802},{"g":"B23","x":593,"y":760},{"g":"B23","x":578,"y":730},{"g":"B23","x":537,"y":607},{"g":"B23","x":521,"y":553},
{"g":"B22","x":1197,"y":1144},{"g":"B22","x":1060,"y":1062},{"g":"B22","x":925,"y":980},{"g":"B22","x":873,"y":942},{"g":"B22","x":840,"y":920},{"g":"B22","x":800,"y":893},{"g":"B22","x":763,"y":863},{"g":"B22","x":727,"y":827},{"g":"B22","x":690,"y":785},{"g":"B22","x":652,"y":728},{"g":"B22","x":628,"y":683},{"g":"B22","x":610,"y":643},{"g":"B22","x":578,"y":542},
{"g":"B21","x":1233,"y":1093},{"g":"B21","x":1110,"y":1021},{"g":"B21","x":990,"y":950},{"g":"B21","x":948,"y":925},{"g":"B21","x":908,"y":897},{"g":"B21","x":873,"y":872},{"g":"B21","x":835,"y":843},{"g":"B21","x":797,"y":812},{"g":"B21","x":760,"y":775},{"g":"B21","x":722,"y":732},{"g":"B21","x":683,"y":672},{"g":"B21","x":645,"y":583},{"g":"B21","x":627,"y":525},
{"g":"B20","x":1266,"y":1049},{"g":"B20","x":1140,"y":975},{"g":"B20","x":1020,"y":907},{"g":"B20","x":982,"y":882},{"g":"B20","x":945,"y":855},{"g":"B20","x":907,"y":828},{"g":"B20","x":868,"y":800},{"g":"B20","x":832,"y":767},{"g":"B20","x":793,"y":730},{"g":"B20","x":757,"y":687},{"g":"B20","x":718,"y":628},{"g":"B20","x":695,"y":582},{"g":"B20","x":668,"y":508},
{"g":"B19","x":1299,"y":1007},{"g":"B19","x":1160,"y":925},{"g":"B19","x":1020,"y":842},{"g":"B19","x":978,"y":817},{"g":"B19","x":940,"y":792},{"g":"B19","x":903,"y":762},{"g":"B19","x":865,"y":728},{"g":"B19","x":828,"y":693},{"g":"B19","x":790,"y":650},{"g":"B19","x":753,"y":593},{"g":"B19","x":728,"y":545},{"g":"B19","x":707,"y":490},
{"g":"B18","x":1335,"y":969},{"g":"B18","x":1170,"y":874},{"g":"B18","x":1010,"y":780},{"g":"B18","x":973,"y":755},{"g":"B18","x":935,"y":727},{"g":"B18","x":898,"y":697},{"g":"B18","x":860,"y":660},{"g":"B18","x":825,"y":617},{"g":"B18","x":790,"y":560},{"g":"B18","x":765,"y":518},{"g":"B18","x":742,"y":467},
{"g":"B17","x":1365,"y":933},{"g":"B17","x":1185,"y":830},{"g":"B17","x":1007,"y":725},{"g":"B17","x":968,"y":697},{"g":"B17","x":932,"y":667},{"g":"B17","x":895,"y":633},{"g":"B17","x":857,"y":592},{"g":"B17","x":820,"y":540},{"g":"B17","x":790,"y":490},{"g":"B17","x":775,"y":446},
{"g":"B16","x":1398,"y":902},{"g":"B16","x":1200,"y":785},{"g":"B16","x":1002,"y":668},{"g":"B16","x":965,"y":640},{"g":"B16","x":927,"y":607},{"g":"B16","x":890,"y":568},{"g":"B16","x":853,"y":522},{"g":"B16","x":825,"y":470},{"g":"B16","x":803,"y":425},
{"g":"B15","x":1430,"y":872},{"g":"B15","x":1300,"y":795},{"g":"B15","x":1150,"y":707},{"g":"B15","x":997,"y":617},{"g":"B15","x":958,"y":585},{"g":"B15","x":922,"y":548},{"g":"B15","x":885,"y":503},{"g":"B15","x":855,"y":450},{"g":"B15","x":829,"y":402},
{"g":"B14","x":1461,"y":843},{"g":"B14","x":1300,"y":750},{"g":"B14","x":1150,"y":663},{"g":"B14","x":1040,"y":590},{"g":"B14","x":980,"y":548},{"g":"B14","x":940,"y":512},{"g":"B14","x":900,"y":468},{"g":"B14","x":852,"y":379},
{"g":"B13","x":1489,"y":813},{"g":"B13","x":1300,"y":705},{"g":"B13","x":1150,"y":619},{"g":"B13","x":1060,"y":555},{"g":"B13","x":1000,"y":508},{"g":"B13","x":960,"y":475},{"g":"B13","x":918,"y":430},{"g":"B13","x":875,"y":355},
{"g":"B12","x":1520,"y":786},{"g":"B12","x":1300,"y":663},{"g":"B12","x":1150,"y":579},{"g":"B12","x":1080,"y":530},{"g":"B12","x":1020,"y":480},{"g":"B12","x":975,"y":440},{"g":"B12","x":935,"y":405},{"g":"B12","x":892,"y":333},
{"g":"B11","x":1548,"y":759},{"g":"B11","x":1300,"y":623},{"g":"B11","x":1150,"y":540},{"g":"B11","x":1090,"y":500},{"g":"B11","x":1040,"y":458},{"g":"B11","x":990,"y":410},{"g":"B11","x":950,"y":372},{"g":"B11","x":913,"y":302},
{"g":"B10","x":1579,"y":736},{"g":"B10","x":1300,"y":585},{"g":"B10","x":1150,"y":504},{"g":"B10","x":1100,"y":470},{"g":"B10","x":1050,"y":432},{"g":"B10","x":1005,"y":385},{"g":"B10","x":965,"y":340},{"g":"B10","x":930,"y":275},
{"g":"B9","x":1607,"y":713},{"g":"B9","x":1300,"y":550},{"g":"B9","x":1150,"y":471},{"g":"B9","x":1105,"y":440},{"g":"B9","x":1060,"y":405},{"g":"B9","x":1015,"y":358},{"g":"B9","x":978,"y":310},{"g":"B9","x":946,"y":249},
{"g":"B8","x":1635,"y":690},{"g":"B8","x":1300,"y":519},{"g":"B8","x":1150,"y":442},{"g":"B8","x":1110,"y":412},{"g":"B8","x":1065,"y":375},{"g":"B8","x":1020,"y":325},{"g":"B8","x":985,"y":270},{"g":"B8","x":964,"y":214},
{"g":"B7","x":1663,"y":667},{"g":"B7","x":1300,"y":485},{"g":"B7","x":1150,"y":410},{"g":"B7","x":1115,"y":382},{"g":"B7","x":1075,"y":345},{"g":"B7","x":1030,"y":295},{"g":"B7","x":995,"y":240},{"g":"B7","x":974,"y":184},
{"g":"B6","x":1691,"y":646},{"g":"B6","x":1300,"y":454},{"g":"B6","x":1150,"y":381},{"g":"B6","x":1120,"y":355},{"g":"B6","x":1080,"y":315},{"g":"B6","x":1040,"y":265},{"g":"B6","x":1003,"y":210},{"g":"B6","x":984,"y":161},
{"g":"B5","x":1716,"y":625},{"g":"B5","x":1300,"y":425},{"g":"B5","x":1150,"y":353},{"g":"B5","x":1120,"y":325},{"g":"B5","x":1085,"y":285},{"g":"B5","x":1045,"y":235},{"g":"B5","x":1010,"y":180},{"g":"B5","x":989,"y":134},
{"g":"B4","x":1742,"y":604},{"g":"B4","x":1300,"y":396},{"g":"B4","x":1150,"y":326},{"g":"B4","x":1120,"y":300},{"g":"B4","x":1090,"y":255},{"g":"B4","x":1050,"y":205},{"g":"B4","x":1015,"y":155},{"g":"B4","x":994,"y":111},
{"g":"B3","x":1765,"y":583},{"g":"B3","x":1300,"y":374},{"g":"B3","x":1150,"y":306},{"g":"B3","x":1125,"y":280},{"g":"B3","x":1095,"y":235},{"g":"B3","x":1055,"y":185},{"g":"B3","x":1020,"y":140},{"g":"B3","x":998,"y":100},
{"g":"B2","x":1793,"y":564},{"g":"B2","x":1300,"y":347},{"g":"B2","x":1150,"y":281},{"g":"B2","x":1105,"y":245},{"g":"B2","x":1065,"y":205},{"g":"B2","x":1030,"y":165},{"g":"B2","x":1003,"y":125},
{"g":"B1","x":1818,"y":544},{"g":"B1","x":1300,"y":321},{"g":"B1","x":1150,"y":257},{"g":"B1","x":1110,"y":230},{"g":"B1","x":1075,"y":205},{"g":"B1","x":1040,"y":180},{"g":"B1","x":1012,"y":155},
{"g":"Fa1","x":227,"y":761},{"g":"Fa1","x":455,"y":631},{"g":"Fa2","x":258,"y":780},{"g":"Fa2","x":452,"y":670},{"g":"Fa3","x":291,"y":797},{"g":"Fa3","x":452,"y":705},{"g":"Fa4","x":322,"y":819},{"g":"Fa4","x":448,"y":747},{"g":"Fa5","x":355,"y":836},{"g":"Fa5","x":444,"y":785},{"g":"Fa6","x":386,"y":859},{"g":"Fa6","x":432,"y":833},
{"g":"Fb1","x":235,"y":724},{"g":"Fb1","x":433,"y":838},{"g":"Fb2","x":268,"y":705},{"g":"Fb2","x":440,"y":804},{"g":"Fb3","x":304,"y":682},{"g":"Fb3","x":445,"y":763},{"g":"Fb4","x":337,"y":663},{"g":"Fb4","x":450,"y":728},{"g":"Fb5","x":370,"y":644},{"g":"Fb5","x":452,"y":691},{"g":"Fb6","x":406,"y":625},{"g":"Fb6","x":456,"y":654},{"g":"Fb7","x":442,"y":606},{"g":"Fb7","x":458,"y":615}
],
"outline":[
{"g":"back","x":1028,"y":184},{"g":"back","x":1846,"y":525},{"g":"floorback","x":193,"y":743},{"g":"floorback","x":460,"y":591},
{"g":"front","x":193,"y":743},{"g":"front","x":355,"y":836},{"g":"front","x":386,"y":859},{"g":"front","x":406,"y":881},{"g":"front","x":427,"y":921},{"g":"front","x":447,"y":960},{"g":"front","x":462,"y":981},{"g":"front","x":483,"y":996},{"g":"front","x":523,"y":1000},{"g":"front","x":559,"y":1010},{"g":"front","x":590,"y":1024},{"g":"front","x":631,"y":1044},{"g":"front","x":702,"y":1084},{"g":"front","x":773,"y":1127},{"g":"front","x":850,"y":1171},{"g":"front","x":932,"y":1218},{"g":"front","x":1011,"y":1267},{"g":"front","x":1092,"y":1318},
{"g":"wall","x":424,"y":893},{"g":"wall","x":437,"y":821},{"g":"wall","x":447,"y":764},{"g":"wall","x":455,"y":697},{"g":"wall","x":460,"y":591},{"g":"wall","x":462,"y":534},
{"g":"spike","x":994,"y":100},{"g":"spike","x":1002,"y":130},{"g":"spike","x":1012,"y":161},{"g":"spike","x":1028,"y":184}],
"black":[{"g":"k","x":543,"y":1003},{"g":"k","x":548,"y":947},{"g":"k","x":563,"y":863},{"g":"k","x":595,"y":767},{"g":"k","x":630,"y":693},{"g":"k","x":663,"y":633},{"g":"k","x":697,"y":577},{"g":"k","x":713,"y":550},{"g":"k","x":753,"y":517},{"g":"k","x":797,"y":497},{"g":"k","x":837,"y":483},{"g":"k","x":910,"y":455},{"g":"k","x":1012,"y":421},{"g":"k","x":1114,"y":385},{"g":"k","x":1216,"y":342},{"g":"k","x":1303,"y":302}],
"red":[{"g":"k","x":768,"y":1115},{"g":"k","x":821,"y":1020},{"g":"k","x":870,"y":939},{"g":"k","x":945,"y":833},{"g":"k","x":1020,"y":746},{"g":"k","x":1119,"y":659},{"g":"k","x":1243,"y":572},{"g":"k","x":1368,"y":491},{"g":"k","x":1532,"y":388}],
"thinFront":[{"g":"t1","x":131,"y":445},{"g":"t1","x":1096,"y":968},{"g":"t2","x":1096,"y":968},{"g":"t2","x":1094,"y":1370},{"g":"t3","x":1096,"y":968},{"g":"t3","x":1903,"y":372}],
"ridge":[{"p":"R","x":461,"y":530},{"p":"R","x":477,"y":505},{"p":"R","x":553,"y":429},{"p":"R","x":655,"y":344},{"p":"R","x":757,"y":253},{"p":"R","x":859,"y":157},{"p":"R","x":910,"y":103},{"p":"R","x":941,"y":65},{"p":"R","x":961,"y":34},{"p":"R","x":970,"y":19},{"p":"R","x":982,"y":28},{"p":"R","x":988,"y":42},{"p":"R","x":994,"y":65},{"p":"R","x":994,"y":100},{"p":"R","x":982,"y":161},{"p":"R","x":961,"y":210},{"p":"R","x":936,"y":260},{"p":"R","x":910,"y":302},{"p":"R","x":869,"y":362},{"p":"R","x":829,"y":402},{"p":"R","x":775,"y":446},{"p":"R","x":706,"y":488},{"p":"R","x":627,"y":526},{"p":"R","x":579,"y":540},{"p":"R","x":522,"y":551},{"p":"R","x":477,"y":549},{"p":"R","x":461,"y":530}],
"nums":[{"t":"1.0","x":48,"y":477},{"t":"0.5","x":68,"y":633},{"t":"0.0","x":92,"y":786},{"t":"0","x":153,"y":897},{"t":"1","x":417,"y":1068},{"t":"2","x":709,"y":1249},{"t":"3","x":1038,"y":1453},{"t":"1.0","x":1181,"y":1442},{"t":"0.5","x":1573,"y":1102},{"t":"0.0","x":1900,"y":810}],
"big":[{"t":"r′","x":495,"y":1225},{"t":"X","x":1666,"y":1169}],
"gam":[{"t":"γ","x":72,"y":198},{"t":"γ′","x":60,"y":314}],
"sub":[{"t":"eff","x":124,"y":252},{"t":"max","x":121,"y":364}],
"sup":[{"t":"(0)","x":136,"y":196}],
"bar":[{"g":"f","x":22,"y":281},{"g":"f","x":181,"y":281}]
},
"encoding":{"x":{"field":"x","type":"quantitative","scale":{"domain":[0,1950],"nice":false,"zero":false},"axis":null},"y":{"field":"y","type":"quantitative","scale":{"domain":[1497,0],"nice":false,"zero":false},"axis":null}},
"layer":[
{"data":{"name":"thinBack"},"mark":{"type":"line","stroke":"#231f20","strokeWidth":1.3,"strokeDash":[26,24]},"encoding":{"detail":{"field":"g"},"order":{"value":null}}},
{"data":{"name":"dashes"},"mark":{"type":"line","stroke":"#231f20","strokeWidth":13,"strokeDash":[30,23],"strokeCap":"round"},"encoding":{"detail":{"field":"g"},"order":{"value":null}}},
{"data":{"name":"solid"},"mark":{"type":"line","stroke":"#231f20","strokeWidth":13,"strokeJoin":"miter"},"encoding":{"detail":{"field":"g"},"order":{"value":null}}},
{"data":{"name":"ticks"},"mark":{"type":"line","stroke":"#231f20","strokeWidth":10,"strokeCap":"round"},"encoding":{"detail":{"field":"g"},"order":{"value":null}}},
{"data":{"name":"poly"},"mark":{"type":"area","opacity":1},"encoding":{"y2":{"datum":0},"detail":{"field":"p"},"order":{"value":null},"color":{"field":"c","type":"nominal","legend":null,"scale":{"domain":["floor","g0","g1","g2","g3","yb","yc","y","gl1","gl2","gl3","f0","f1","f15","f2","t2","f3","f35","f4","tl","tb","nv","o0","o1","o2","o3","o4","w1"],"range":["#6ccbde","#6cb944","#7cc042","#8cc63f","#9acb3c","#b4d335","#d3df26","#f3ea14","#3fae49","#16a04a","#0d8a47","#6cbc6c","#6cbf94","#69c1b2","#66c4cf","#2fb8a8","#22bfef","#1fa0dc","#2b84c6","#14a98b","#1b75bb","#2b3990","#f9d90f","#fdc30f","#f7941d","#f26522","#e93a26","#bc2a2b"]}}}},
{"data":{"name":"grid"},"mark":{"type":"line","stroke":"#231f20","strokeWidth":2.4,"interpolate":"catmull-rom"},"encoding":{"detail":{"field":"g"},"order":{"value":null}}},
{"data":{"name":"outline"},"mark":{"type":"line","stroke":"#231f20","strokeWidth":2,"interpolate":"linear"},"encoding":{"detail":{"field":"g"},"order":{"value":null}}},
{"data":{"name":"thinFront"},"mark":{"type":"line","stroke":"#231f20","strokeWidth":1.2,"strokeDash":[26,24]},"encoding":{"detail":{"field":"g"},"order":{"value":null}}},
{"data":{"name":"black"},"mark":{"type":"line","stroke":"#231f20","strokeWidth":7.5,"interpolate":"catmull-rom"},"encoding":{"order":{"value":null}}},
{"data":{"name":"red"},"mark":{"type":"line","stroke":"#ee2a2e","strokeWidth":7.5,"interpolate":"catmull-rom"},"encoding":{"order":{"value":null}}},
{"data":{"name":"ridge"},"mark":{"type":"area","color":"#ec2229","opacity":1,"interpolate":"catmull-rom"},"encoding":{"y2":{"datum":0},"order":{"value":null}}},
{"data":{"name":"ridge"},"mark":{"type":"line","stroke":"#231f20","strokeWidth":2,"interpolate":"catmull-rom"},"encoding":{"order":{"value":null}}},
{"data":{"name":"bar"},"mark":{"type":"line","stroke":"#231f20","strokeWidth":3},"encoding":{"order":{"value":null}}},
{"data":{"name":"nums"},"mark":{"type":"text","font":"Open Sans","fontSize":66,"color":"#231f20","align":"center","baseline":"middle"},"encoding":{"text":{"field":"t"}}},
{"data":{"name":"big"},"mark":{"type":"text","font":"Liberation Serif","fontSize":104,"color":"#231f20","align":"center","baseline":"middle"},"encoding":{"text":{"field":"t"}}},
{"data":{"name":"gam"},"mark":{"type":"text","font":"Liberation Serif","fontSize":90,"color":"#231f20","align":"center","baseline":"middle"},"encoding":{"text":{"field":"t"}}},
{"data":{"name":"sub"},"mark":{"type":"text","font":"Liberation Serif","fontSize":66,"color":"#231f20","align":"center","baseline":"middle"},"encoding":{"text":{"field":"t"}}},
{"data":{"name":"sup"},"mark":{"type":"text","font":"Liberation Serif","fontSize":56,"color":"#231f20","align":"center","baseline":"middle"},"encoding":{"text":{"field":"t"}}}
]}
